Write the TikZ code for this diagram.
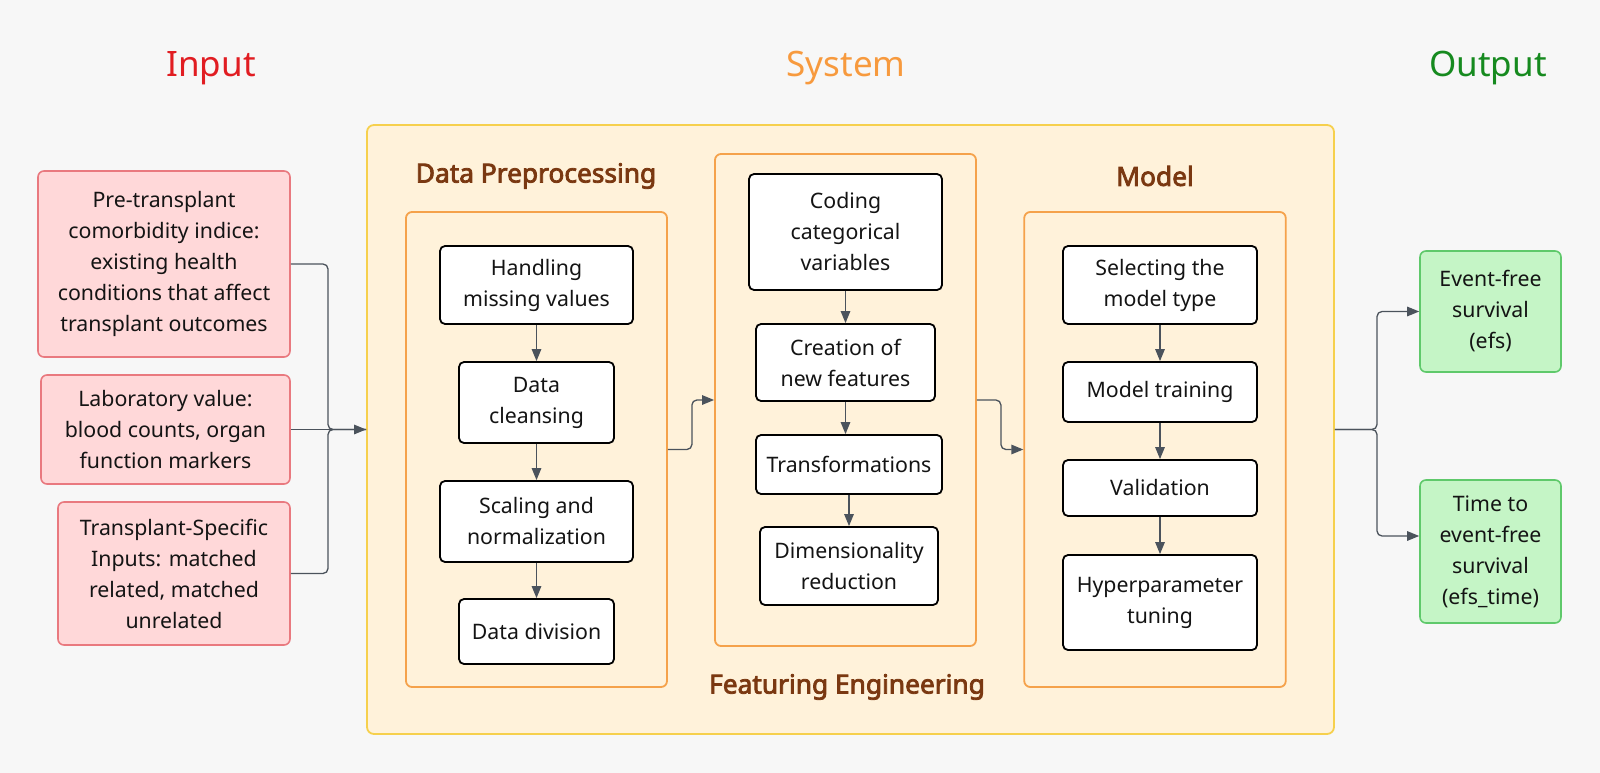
\documentclass[tikz,border=0pt]{standalone}
\usepackage{fontspec}
\setmainfont{Noto Sans}[AutoFakeBold=3]
\usetikzlibrary{arrows.meta}
\definecolor{bg}{HTML}{F7F7F7}
\definecolor{inred}{HTML}{E11D22}
\definecolor{sysorange}{HTML}{F79A3E}
\definecolor{outgreen}{HTML}{168A1F}
\definecolor{infill}{HTML}{FFD8D9}
\definecolor{indraw}{HTML}{E9797F}
\definecolor{sysfill}{HTML}{FFF2DA}
\definecolor{sysdraw}{HTML}{F6D04D}
\definecolor{grpdraw}{HTML}{F5A24B}
\definecolor{brown}{HTML}{7A3811}
\definecolor{outfill}{HTML}{C5F5C6}
\definecolor{outdraw}{HTML}{5FC96B}
\definecolor{conn}{HTML}{4B535C}
\newcommand\bodyfont{\fontsize{21.3}{31}\selectfont}
\newcommand\grpfont{\fontsize{26.3}{30}\selectfont\bfseries}
\newcommand\topfont{\fontsize{35}{42}\selectfont}
\begin{document}
\begin{tikzpicture}[x=1pt,y=-1pt,
  sz/.style 2 args={minimum width=#1pt, minimum height=#2pt},
  wbox/.style={draw=black, line width=1.8pt, fill=white, rounded corners=5pt, align=center, font=\bodyfont, inner sep=0pt, text=black!92},
  inbox/.style={draw=indraw, line width=1.6pt, fill=infill, rounded corners=6pt, align=center, font=\bodyfont, inner sep=0pt, text=black!92},
  outbox/.style={draw=outdraw, line width=1.6pt, fill=outfill, rounded corners=6pt, align=center, font=\bodyfont, inner sep=0pt, text=black!92},
  grpbox/.style={draw=grpdraw, line width=1.8pt, fill=sysfill, rounded corners=6pt, inner sep=0pt},
  sysbox/.style={draw=sysdraw, line width=1.8pt, fill=sysfill, rounded corners=7pt, inner sep=0pt},
  grptitle/.style={font=\grpfont, text=brown, inner sep=0pt},
  toptitle/.style={font=\topfont, inner sep=0pt},
  conn/.style={draw=conn, line width=1.3pt, rounded corners=5pt},
  arr/.style={-{Triangle[length=12pt,width=9.5pt]}}
]
\fill[bg] (0,0) rectangle (1600,773);
\useasboundingbox (0,0) rectangle (1600,773);

% top titles
\node[toptitle, text=inred] (tin) at (211,68) {Input};
\node[toptitle, text=sysorange] (tsys) at (846,68) {System};
\node[toptitle, text=outgreen] (tout) at (1488,68) {Output};

% system container
\node[sysbox, sz={967}{609}] (sys) at (850.5,429.5) {};

% groups
\node[grpbox, sz={261}{475}] (dp) at (536.5,449.5) {};
\node[grpbox, sz={261}{492}] (fe) at (845.5,400) {};
\node[grpbox, sz={261.5}{475}] (mod) at (1155,449.5) {};

\node[grptitle] (dpt) at (536,176) {Data Preprocessing};
\node[grptitle] (fet) at (847,687) {Featuring Engineering};
\node[grptitle] (modt) at (1155,176) {Model};

% input boxes
\node[inbox, sz={252}{186}] (in1) at (164,264) {Pre-transplant\\comorbidity indice:\\existing health\\conditions that affect\\transplant outcomes};
\node[inbox, sz={249}{109}] (in2) at (165.5,429.5) {Laboratory value:\\blood counts, organ\\function markers};
\node[inbox, sz={232}{143}] (in3) at (174,573.5) {Transplant-Specific\\Inputs: matched\\related, matched\\unrelated};

% data preprocessing
\node[wbox, sz={193}{78}] (h1) at (536.5,285) {Handling\\missing values};
\node[wbox, sz={155}{81}] (h2) at (536.5,402.5) {Data\\cleansing};
\node[wbox, sz={193}{81}] (h3) at (536.5,521.5) {Scaling and\\normalization};
\node[wbox, sz={155}{65}] (h4) at (536.5,631.5) {Data division};

% feature engineering
\node[wbox, sz={193}{116}] (f1) at (845.5,232) {Coding\\categorical\\variables};
\node[wbox, sz={179}{77}] (f2) at (845.5,362.5) {Creation of\\new features};
\node[wbox, sz={186}{59}] (f3) at (849,464.5) {Transformations};
\node[wbox, sz={178}{78}] (f4) at (849,566) {Dimensionality\\reduction};

% model
\node[wbox, sz={194}{78}] (m1) at (1160,285) {Selecting the\\model type};
\node[wbox, sz={194}{60}] (m2) at (1160,392) {Model training};
\node[wbox, sz={194}{56}] (m3) at (1160,488) {Validation};
\node[wbox, sz={194}{95}] (m4) at (1160,602.5) {Hyperparameter\\tuning};

% outputs
\node[outbox, sz={141}{121}] (o1) at (1490.5,311.5) {Event-free\\survival\\(efs)};
\node[outbox, sz={141}{143}] (o2) at (1490.5,551.5) {Time to\\event-free\\survival\\(efs\_time)};

% inner arrows
\draw[conn, arr] (h1) -- (h2);
\draw[conn, arr] (h2) -- (h3);
\draw[conn, arr] (h3) -- (h4);
\draw[conn, arr] (f1) -- (f2);
\draw[conn, arr] (f2.south) -- (f2.south |- f3.north);
\draw[conn, arr] (f3.south) -- (f3.south |- f4.north);
\draw[conn, arr] (m1) -- (m2);
\draw[conn, arr] (m2) -- (m3);
\draw[conn, arr] (m3) -- (m4);

% group connectors
\draw[conn, arr] (dp.east) -- ++(24,0) |- (fe.west);
\draw[conn, arr] (fe.east) -- ++(24,0) |- (mod.west);

% input connectors
\coordinate (ij) at (328,429.5);
\draw[conn] (in1.east) -| (ij) -- (sys.west);
\draw[conn] (in3.east) -| (ij) -- (sys.west);
\draw[conn, arr] (in2.east) -- (sys.west);

% output connectors
\coordinate (oj) at (1377,429.5);
\draw[conn, arr] (sys.east) -- (oj) |- (o1.west);
\draw[conn, arr] (sys.east) -- (oj) |- ([yshift=15.5pt]o2.west);
\end{tikzpicture}
\end{document}
